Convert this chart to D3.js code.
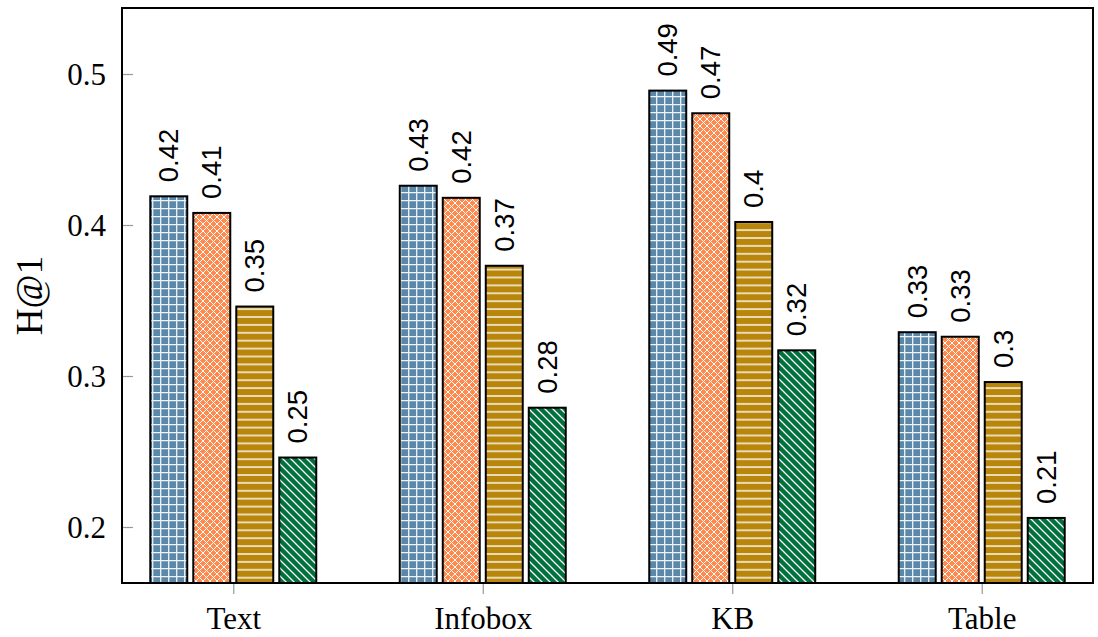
<!DOCTYPE html>
<html>
<head>
<meta charset="utf-8">
<script src="https://cdn.jsdelivr.net/npm/d3@7"></script>
<style>
  html, body { margin: 0; padding: 0; background: #fff; }
  svg { display: block; }
</style>
</head>
<body>
<svg id="chart" width="1098" height="637"></svg>
<script>
// Categories and per-series H@1 scores
const categories = ["Text", "Infobox", "KB", "Table"];
const seriesA = [0.419, 0.426, 0.489, 0.329];
const seriesB = [0.408, 0.418, 0.474, 0.326];
const seriesC = [0.346, 0.373, 0.402, 0.296];
const seriesD = [0.246, 0.279, 0.317, 0.206];
const yTicks = [0.2, 0.3, 0.4, 0.5];
const yLabel = "H@1";

const series = [
  { key: "a", values: seriesA, pattern: "pat-grid" },
  { key: "b", values: seriesB, pattern: "pat-cross" },
  { key: "c", values: seriesC, pattern: "pat-hlines" },
  { key: "d", values: seriesD, pattern: "pat-diag" }
];

const svg = d3.select("#chart");
const plotL = 122, plotR = 1093, plotT = 8, plotB = 583;

const x = d3.scalePoint().domain(categories).range([plotL, plotR]).padding(0.446);
const inner = d3.scaleBand().domain(series.map(s => s.key))
  .range([-86, 86]).paddingInner(0.14).paddingOuter(0.07);
const y = d3.scaleLinear().domain([0.16291, 0.54371]).range([plotB, plotT]);

// Fill patterns
const defs = svg.append("defs");
function pattern(id, size, bg) {
  const p = defs.append("pattern").attr("id", id)
    .attr("patternUnits", "userSpaceOnUse").attr("width", size).attr("height", size);
  p.append("rect").attr("width", size).attr("height", size).attr("fill", bg);
  return p;
}
const g1 = pattern("pat-grid", 8, "#5b87a9");
g1.append("path").attr("d", "M0,0.7H8M0.7,0V8").attr("stroke", "#fff").attr("stroke-width", 1.3).attr("opacity", 0.9);

const g2 = pattern("pat-cross", 7, "#ff8a50");
g2.append("path").attr("d", "M0,0L7,7M7,0L0,7M-1,6L1,8M6,-1L8,1M-1,1L1,-1M6,8L8,6")
  .attr("stroke", "#fff").attr("stroke-width", 1);

const g3 = pattern("pat-hlines", 7.9, "#b8860b");
g3.append("path").attr("d", "M0,1H7.9").attr("stroke", "#fff").attr("stroke-width", 1.4);

const g4 = pattern("pat-diag", 8, "#00703c");
g4.append("path").attr("d", "M0,0L8,8M-1,7L1,9M7,-1L9,1")
  .attr("stroke", "#fff").attr("stroke-width", 1.3);

// Bars
const fmt = d3.format(".2~f");
const plot = svg.append("g");
series.forEach(s => {
  const grp = plot.append("g");
  const rows = categories.map((c, i) => ({ c, v: s.values[i] }));
  grp.selectAll("rect").data(rows)
    .join("rect")
    .attr("x", d => x(d.c) + inner(s.key))
    .attr("y", d => y(d.v))
    .attr("width", inner.bandwidth())
    .attr("height", d => y.range()[0] - y(d.v))
    .attr("fill", `url(#${s.pattern})`)
    .attr("stroke", "#000")
    .attr("stroke-width", 2);
  grp.selectAll("text").data(rows)
    .join("text")
    .attr("transform", d => `translate(${x(d.c) + inner(s.key) + inner.bandwidth() / 2},${y(d.v) - 14}) rotate(-90)`)
    .attr("dy", "0.35em")
    .attr("text-anchor", "start")
    .attr("font-family", "'Liberation Sans', Arial, sans-serif")
    .attr("font-size", 27.5)
    .attr("fill", "#000")
    .text(d => fmt(d.v));
});

// Y axis ticks (inside) and labels
const yAxis = svg.append("g").attr("transform", `translate(${plotL},0)`)
  .call(d3.axisLeft(y).tickValues(yTicks).tickSize(-11).tickPadding(16).tickFormat(d3.format(".1f")));
yAxis.select(".domain").remove();
yAxis.selectAll(".tick line").attr("stroke", "#999").attr("stroke-width", 1.2);
yAxis.selectAll(".tick text")
  .attr("font-family", "'Liberation Serif', 'Times New Roman', serif")
  .attr("font-size", 31).attr("fill", "#000").attr("dy", "0.33em");

// X axis ticks (outside) and labels
const xAxis = svg.append("g").attr("transform", `translate(0,${plotB})`)
  .call(d3.axisBottom(x).tickSize(11).tickPadding(13));
xAxis.select(".domain").remove();
xAxis.selectAll(".tick line").attr("stroke", "#999").attr("stroke-width", 1.2);
xAxis.selectAll(".tick text")
  .attr("font-family", "'Liberation Serif', 'Times New Roman', serif")
  .attr("font-size", 31).attr("fill", "#000").attr("dy", "0.71em");

// Frame
svg.append("rect").attr("x", plotL).attr("y", plotT)
  .attr("width", plotR - plotL).attr("height", plotB - plotT)
  .attr("fill", "none").attr("stroke", "#000").attr("stroke-width", 2);

// Y axis title
svg.append("text")
  .attr("transform", `translate(42,${(plotT + plotB) / 2}) rotate(-90)`)
  .attr("text-anchor", "middle")
  .attr("font-family", "'Liberation Serif', 'Times New Roman', serif")
  .attr("font-size", 37)
  .attr("fill", "#000")
  .text(yLabel);
</script>
</body>
</html>
